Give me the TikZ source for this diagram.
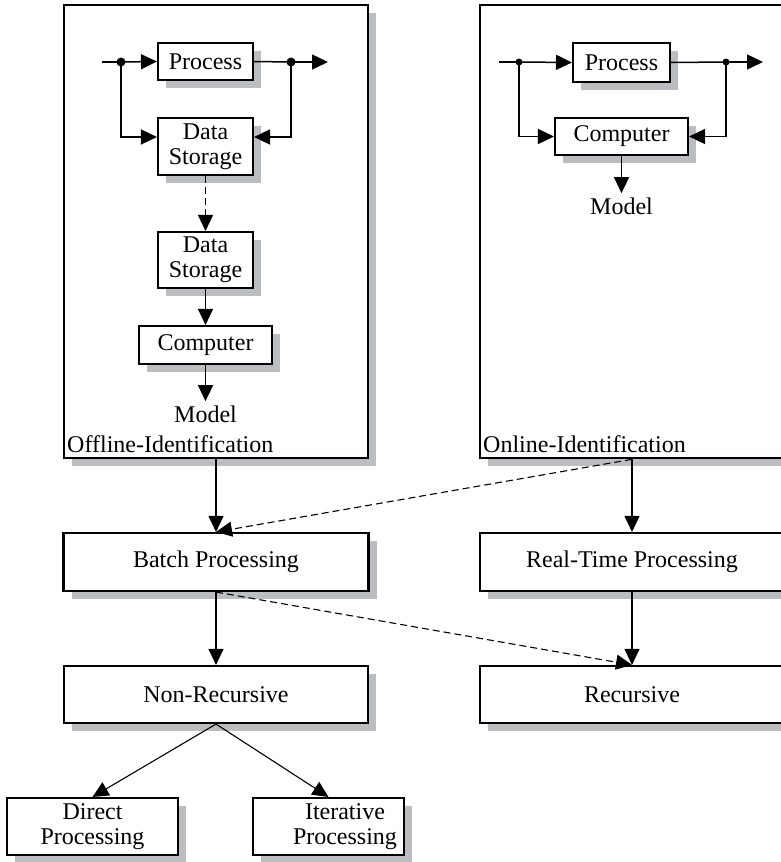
\documentclass[tikz,border=0pt]{standalone}
\usepackage{fontspec}
\setmainfont{Liberation Serif}
\usetikzlibrary{arrows.meta,shadows}
\definecolor{shadowgray}{RGB}{188,189,193}

\begin{document}
\begin{tikzpicture}[x=1pt, y=-1pt, >={Triangle[length=16pt,width=15pt]},
    font=\fontsize{24}{25}\selectfont,
    blk/.style={draw, line width=2.1pt, fill=white, align=center, inner sep=0pt,
      drop shadow={shadow xshift=8pt, shadow yshift=-8pt, fill=shadowgray, opacity=1}},
    frame/.style={blk, line width=2.6pt, minimum width=304pt, minimum height=453pt},
    wire/.style={line width=1.5pt},
    link/.style={line width=1.1pt},
    dashlink/.style={dash pattern=on 7pt off 4pt}]
    \useasboundingbox (0,0) rectangle (781,862);

    % Identification frames
    \node[frame] (offline) at (216,231.5) {};
    \node[frame] (online) at (632,231.5) {};
    \node[anchor=base west, inner sep=0pt] (offlbl) at (67,452) {Offline-Identification};
    \node[anchor=base west, inner sep=0pt] (onlbl) at (483,452) {Online-Identification};

    % Offline scheme
    \node[blk, minimum width=95pt, minimum height=37pt] (proc1) at (205.5,61.5) {Process};
    \node[blk, minimum width=95pt, minimum height=57pt] (store1) at (205.5,146.5) {Data\\Storage};
    \node[blk, minimum width=95pt, minimum height=56pt] (store2) at (205.5,260) {Data\\Storage};
    \node[blk, minimum width=133pt, minimum height=38pt] (comp1) at (205.5,345) {Computer};
    \node[anchor=base, inner sep=4pt] (model1) at (205.5,422) {Model};
    \coordinate (in1) at (102,62);
    \coordinate (j1) at (121,62);
    \coordinate (j2) at (291,62);
    \coordinate (out1) at (328,62);

    \draw[wire] (in1) -- (j1);
    \draw[wire,->] (j1) -- (proc1.west);
    \draw[wire] (proc1.east) -- (j2);
    \draw[wire,->] (j2) -- (out1);
    \draw[wire,->] (j1) |- ([yshift=9.5pt]store1.west);
    \draw[wire,->] (j2) |- ([yshift=9.5pt]store1.east);
    \draw[wire,->,dashlink] (store1.south) -- (store2.north);
    \draw[wire,->] (store2.south) -- (comp1.north);
    \draw[wire,->] (comp1.south) -- (model1.north);
    \foreach \j in {j1,j2} {
        \fill (\j) circle (4.5pt);
    }

    % Online scheme
    \node[blk, minimum width=97pt, minimum height=39pt] (proc2) at (621.5,62.5) {Process};
    \node[blk, minimum width=133pt, minimum height=37pt] (comp2) at (621.5,136.5) {Computer};
    \node[anchor=base, inner sep=4pt] (model2) at (621.5,214) {Model};
    \coordinate (in2) at (499,62);
    \coordinate (j3) at (519,62);
    \coordinate (j4) at (726,62);
    \coordinate (out2) at (763,62);

    \draw[wire] (in2) -- (j3);
    \draw[wire,->] (j3) -- (proc2.west);
    \draw[wire] (proc2.east) -- (j4);
    \draw[wire,->] (j4) -- (out2);
    \draw[wire,->] (j3) |- (comp2.west);
    \draw[wire,->] (j4) |- (comp2.east);
    \draw[wire,->] (comp2.south) -- (model2.north);
    \foreach \j in {j3,j4} {
        \fill (\j) circle (3.5pt);
    }

    % Processing modes
    \node[blk, minimum width=305pt, minimum height=58pt] (batch) at (216,562) {Batch Processing};
    \node[blk, minimum width=304pt, minimum height=58pt] (realtime) at (632,562) {Real-Time Processing};
    \node[blk, minimum width=304pt, minimum height=57pt] (nonrec) at (216,694.5) {Non-Recursive};
    \node[blk, minimum width=304pt, minimum height=57pt] (rec) at (632,694.5) {Recursive};
    \node[blk, minimum width=171pt, minimum height=57pt] (direct) at (92.5,826.5) {Direct\\Processing};
    \node[blk, minimum width=151pt, minimum height=57pt] (iter) at (328.5,826.5) {};
    \node[align=center, inner sep=0pt] (iterlbl) at (345,826.5) {Iterative\\Processing};

    \draw[link,->] (offline.south) -- (batch.north);
    \draw[link,->,dashlink] (online.south) -- (batch.north);
    \draw[link,->] (online.south) -- (realtime.north);
    \draw[link,->] (batch.south) -- (nonrec.north);
    \draw[link,->] (realtime.south) -- (rec.north);
    \draw[link,->,dashlink] (batch.south) -- (rec.north);
    \draw[link,->] (nonrec.south) -- (direct.north);
    \draw[link,->] (nonrec.south) -- (iter.north);
\end{tikzpicture}
\end{document}
